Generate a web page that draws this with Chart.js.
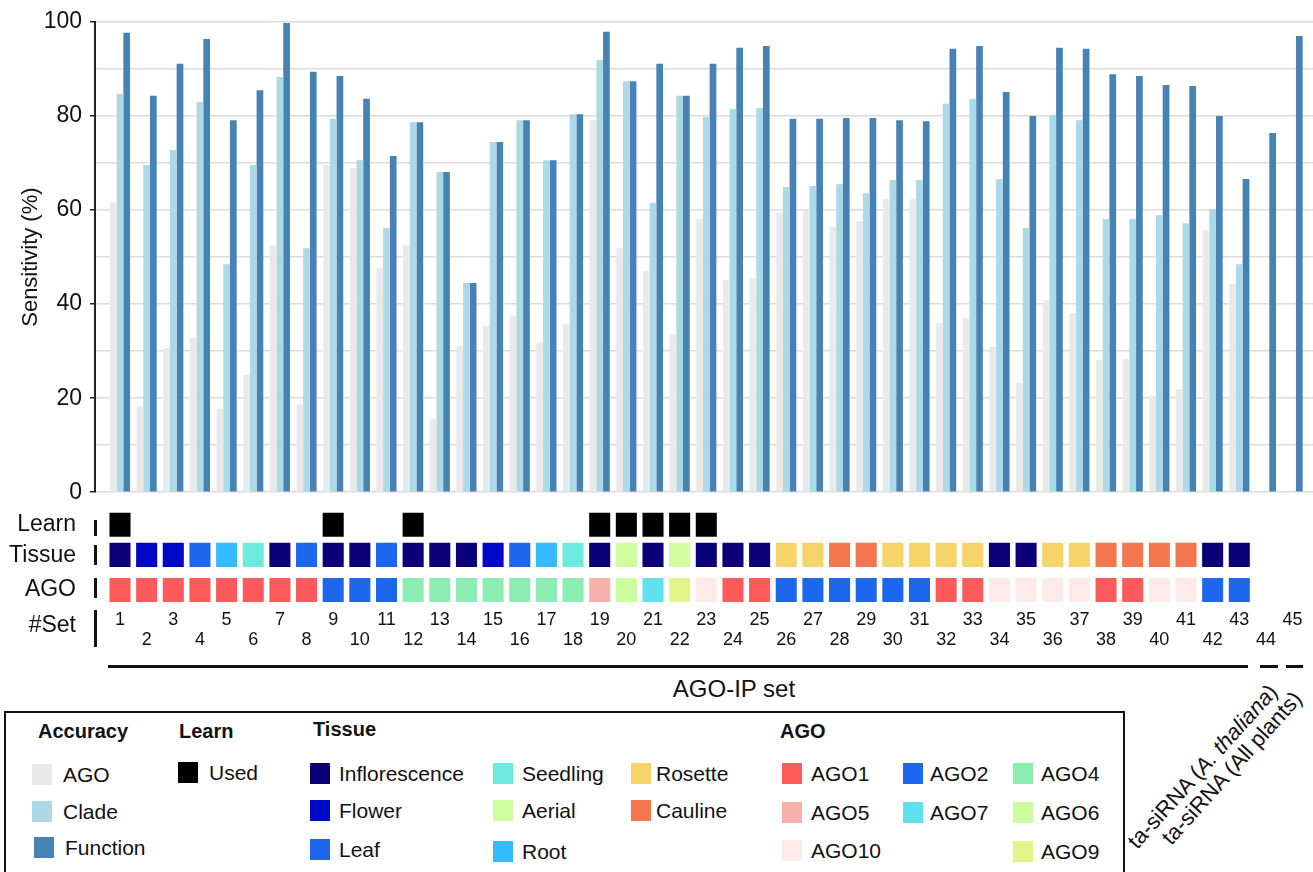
<!DOCTYPE html>
<html>
<head>
<meta charset="utf-8">
<script src="https://cdn.jsdelivr.net/npm/chart.js@4.4.1/dist/chart.umd.min.js"></script>
<style>
html,body{margin:0;padding:0;background:#fff;}
body{width:1313px;height:872px;overflow:hidden;position:relative;font-family:"Liberation Sans",Arial,sans-serif;color:#111;}
canvas{position:absolute;left:0;}
#c1{top:0;}
#c2{top:494px;}
.vbar{position:absolute;left:94px;width:3px;background:#111;}
.hline{position:absolute;height:3px;background:#111;}
.txt{position:absolute;white-space:nowrap;}
.rot{position:absolute;font-size:22px;line-height:22px;white-space:nowrap;transform:rotate(-48deg);transform-origin:100% 50%;}
#legend{position:absolute;left:4px;top:711px;width:1121px;height:180px;border:2.5px solid #111;box-sizing:border-box;}
.lh{position:absolute;font-weight:bold;font-size:20px;line-height:24px;white-space:nowrap;}
.li{position:absolute;font-size:21px;line-height:24px;white-space:nowrap;}
.sw{position:absolute;width:20px;height:21px;}
</style>
</head>
<body>
<canvas id="c1" width="1313" height="514"></canvas>
<canvas id="c2" width="1313" height="161"></canvas>

<div class="vbar" style="top:520px;height:16px"></div>
<div class="vbar" style="top:545px;height:20px"></div>
<div class="vbar" style="top:578px;height:20px"></div>
<div class="vbar" style="top:610px;height:37px"></div>
<div class="txt" style="left:0;width:76px;text-align:right;top:611px;font-size:23px;line-height:26px">#Set</div>

<div class="hline" style="left:108px;width:1140px;top:665px"></div>
<div class="hline" style="left:1260px;width:18px;top:665px"></div>
<div class="hline" style="left:1286px;width:17px;top:665px"></div>
<div class="txt" style="left:634px;width:200px;text-align:center;top:675px;font-size:24px;line-height:28px">AGO-IP set</div>

<div class="rot" style="right:39px;top:677px">ta-siRNA (<i>A. thaliana</i>)</div>
<div class="rot" style="right:15px;top:684px">ta-siRNA (All plants)</div>

<div id="legend"></div>

<script>
// ---------- data ----------
const setIds = [1,2,3,4,5,6,7,8,9,10,11,12,13,14,15,16,17,18,19,20,21,22,23,24,25,26,27,28,29,30,31,32,33,34,35,36,37,38,39,40,41,42,43,44,45];

const accAGO = [61.6,18.3,30.6,32.8,17.7,24.9,52.5,18.7,69.6,68.9,47.7,52.5,15.5,31.1,35.3,37.6,31.9,35.7,79.1,51.9,47.0,33.6,58.1,45.1,45.5,59.4,60.0,56.4,57.7,62.3,62.3,36.0,37.0,30.9,23.2,40.9,38.1,28.1,28.3,20.4,21.9,55.7,44.3,null,null];
const accClade = [84.7,69.6,72.8,83.0,48.5,69.6,88.3,51.9,79.4,70.6,56.2,78.7,68.1,44.5,74.5,79.1,70.6,80.4,91.9,87.4,61.5,84.3,79.8,81.5,81.7,64.9,65.1,65.5,63.6,66.4,66.4,82.6,83.6,66.6,56.2,80.2,79.1,58.1,58.1,58.9,57.2,60.2,48.5,null,null];
const accFunction = [97.7,84.3,91.1,96.4,79.1,85.5,99.8,89.4,88.5,83.7,71.5,78.7,68.1,44.5,74.5,79.1,70.6,80.4,97.9,87.4,91.1,84.3,91.1,94.5,94.9,79.4,79.4,79.6,79.6,79.1,78.9,94.3,94.9,85.1,80.0,94.5,94.3,88.9,88.5,86.6,86.4,80.0,66.6,76.4,97.0];

const learnUsed = [1,0,0,0,0,0,0,0,1,0,0,1,0,0,0,0,0,0,1,1,1,1,1,0,0,0,0,0,0,0,0,0,0,0,0,0,0,0,0,0,0,0,0,0,0];
const tissue = ['Inflorescence','Flower','Flower','Leaf','Root','Seedling','Inflorescence','Leaf','Inflorescence','Inflorescence',
  'Leaf','Inflorescence','Inflorescence','Inflorescence','Flower','Leaf','Root','Seedling','Inflorescence','Aerial',
  'Inflorescence','Aerial','Inflorescence','Inflorescence','Inflorescence','Rosette','Rosette','Cauline','Cauline','Rosette',
  'Rosette','Rosette','Rosette','Inflorescence','Inflorescence','Rosette','Rosette','Cauline','Cauline','Cauline',
  'Cauline','Inflorescence','Inflorescence',null,null];
const agoType = ['AGO1','AGO1','AGO1','AGO1','AGO1','AGO1','AGO1','AGO1','AGO2','AGO2',
  'AGO2','AGO4','AGO4','AGO4','AGO4','AGO4','AGO4','AGO4','AGO5','AGO6',
  'AGO7','AGO9','AGO10','AGO1','AGO1','AGO2','AGO2','AGO2','AGO2','AGO2',
  'AGO2','AGO1','AGO1','AGO10','AGO10','AGO10','AGO10','AGO1','AGO1','AGO10',
  'AGO10','AGO2','AGO2',null,null];

const yTicksMain = [0,20,40,60,80,100];
const rowNames = ['Learn','Tissue','AGO'];

// ---------- styles ----------
const accColors = {AGO:'#e9e9e9', Clade:'#add8e6', Function:'#4682b4'};
const tissueColors = {Inflorescence:'#0b0077', Flower:'#0008c8', Leaf:'#1d66ee', Seedling:'#6ceadf', Aerial:'#cffd9f', Root:'#33bcfe', Rosette:'#f6d46a', Cauline:'#f3764f'};
const agoColors = {AGO1:'#ff5a5b', AGO2:'#1d66ee', AGO4:'#8bedb1', AGO5:'#f5b1aa', AGO7:'#5fe1ef', AGO6:'#cefd9f', AGO10:'#ffeaea', AGO9:'#e1f58b'};
const FONT = '"Liberation Sans", Arial, sans-serif';

// x mapping (layout): set 1 centre at 120px, 26.65px per set, plot spans 95..1313
const X_MIN = 0.0619, X_MAX = 45.7655;
// annotation row bands (pixels from top of annotation plot)
const rowBands = [[5,29],[35,59],[70,94]];
const rowMid = [17,48,82];

Chart.defaults.font.family = FONT;
Chart.defaults.color = '#111';

const intTicks = s => { s.ticks = setIds.map(v => ({value: v})); };

// ---------- main chart ----------
new Chart(document.getElementById('c1'), {
  type: 'bar',
  data: {
    datasets: [
      {label:'AGO', data: setIds.map((s,i)=>({x:s, y:accAGO[i]})), backgroundColor: accColors.AGO},
      {label:'Clade', data: setIds.map((s,i)=>({x:s, y:accClade[i]})), backgroundColor: accColors.Clade},
      {label:'Function', data: setIds.map((s,i)=>({x:s, y:accFunction[i]})), backgroundColor: accColors.Function}
    ]
  },
  options: {
    responsive:false, animation:false,
    categoryPercentage:0.755, barPercentage:1.0,
    layout:{padding:{top:22,bottom:0,left:0,right:0}},
    plugins:{legend:{display:false}, tooltip:{enabled:false}},
    scales:{
      x:{type:'linear', offset:false, min:X_MIN, max:X_MAX, display:false, afterBuildTicks:intTicks},
      y:{
        min:0, max:100,
        ticks:{stepSize:10, padding:8, color:'#111', font:{size:23},
          callback: v => yTicksMain.includes(v) ? String(v) : ''},
        grid:{color:'#dcdcdc', lineWidth:1.5, tickLength:5,
          tickColor: c => (c.tick && yTicksMain.includes(c.tick.value)) ? '#222' : 'rgba(0,0,0,0)'},
        border:{display:true, color:'#222', width:2},
        title:{display:true, text:'Sensitivity (%)', font:{size:22}, color:'#111', padding:{top:18,bottom:0}},
        afterFit: s => { s.width = 95; }
      }
    }
  }
});

// ---------- annotation chart ----------
const idxLearn = setIds.map((s,i)=>i).filter(i=>learnUsed[i]);
const idxTissue = setIds.map((s,i)=>i).filter(i=>tissue[i]);
const idxAgo = setIds.map((s,i)=>i).filter(i=>agoType[i]);

new Chart(document.getElementById('c2'), {
  type:'bar',
  data:{
    datasets:[
      {label:'Learn', data: idxLearn.map(i=>({x:setIds[i], y:rowBands[0]})), backgroundColor:'#000'},
      {label:'Tissue', data: idxTissue.map(i=>({x:setIds[i], y:rowBands[1]})), backgroundColor: idxTissue.map(i=>tissueColors[tissue[i]])},
      {label:'AGO', data: idxAgo.map(i=>({x:setIds[i], y:rowBands[2]})), backgroundColor: idxAgo.map(i=>agoColors[agoType[i]])}
    ]
  },
  options:{
    responsive:false, animation:false,
    grouped:false, categoryPercentage:0.79, barPercentage:1.0,
    layout:{padding:{top:0,bottom:0,left:0,right:0}},
    plugins:{legend:{display:false}, tooltip:{enabled:false}},
    scales:{
      x:{type:'linear', offset:false, min:X_MIN, max:X_MAX, afterBuildTicks:intTicks,
        grid:{display:false, drawTicks:false}, border:{display:false},
        ticks:{autoSkip:false, maxRotation:0, minRotation:0, padding:2, color:'#111',
          font:{size:18, lineHeight:'20px'},
          callback: v => (v % 2 === 1) ? [String(v), ''] : ['', String(v)]},
        afterFit: s => { s.height = 47; }
      },
      y:{min:0, max:100, reverse:true,
        afterBuildTicks: s => { s.ticks = rowMid.map(v=>({value:v})); },
        grid:{display:false, drawTicks:true, tickLength:19}, border:{display:false},
        ticks:{padding:0, color:'#111', font:{size:23}, callback:(v,i)=>rowNames[i]},
        afterFit: s => { s.width = 95; }
      }
    }
  }
});

// ---------- legend (HTML) ----------
const legendHeaders = [['Accuracy',38,731],['Learn',179,731],['Tissue',313,729],['AGO',780,731]];
const legendItems = [
  ['AGO', accColors.AGO, 32, 63, 775], ['Clade', accColors.Clade, 32, 63, 812], ['Function', accColors.Function, 34, 65, 848],
  ['Used', '#000', 178, 209, 773],
  ['Inflorescence', tissueColors.Inflorescence, 310, 339, 774], ['Flower', tissueColors.Flower, 310, 339, 811], ['Leaf', tissueColors.Leaf, 310, 339, 850],
  ['Seedling', tissueColors.Seedling, 493, 522, 774], ['Aerial', tissueColors.Aerial, 493, 522, 811], ['Root', tissueColors.Root, 493, 522, 852],
  ['Rosette', tissueColors.Rosette, 631, 656, 774], ['Cauline', tissueColors.Cauline, 631, 656, 811],
  ['AGO1', agoColors.AGO1, 782, 811, 774], ['AGO5', agoColors.AGO5, 782, 811, 813], ['AGO10', agoColors.AGO10, 782, 811, 851],
  ['AGO2', agoColors.AGO2, 903, 930, 774], ['AGO7', agoColors.AGO7, 903, 930, 813],
  ['AGO4', agoColors.AGO4, 1013, 1041, 774], ['AGO6', agoColors.AGO6, 1013, 1041, 813], ['AGO9', agoColors.AGO9, 1013, 1041, 852]
];
const body = document.body;
legendHeaders.forEach(([t,x,cy])=>{
  const d = document.createElement('div'); d.className='lh'; d.textContent=t;
  d.style.left = x+'px'; d.style.top = (cy-12)+'px'; body.appendChild(d);
});
legendItems.forEach(([t,c,sx,tx,cy])=>{
  const s = document.createElement('div'); s.className='sw'; s.style.background=c;
  s.style.left = sx+'px'; s.style.top = (cy-11)+'px'; body.appendChild(s);
  const d = document.createElement('div'); d.className='li'; d.textContent=t;
  d.style.left = tx+'px'; d.style.top = (cy-12)+'px'; body.appendChild(d);
});
</script>
</body>
</html>
